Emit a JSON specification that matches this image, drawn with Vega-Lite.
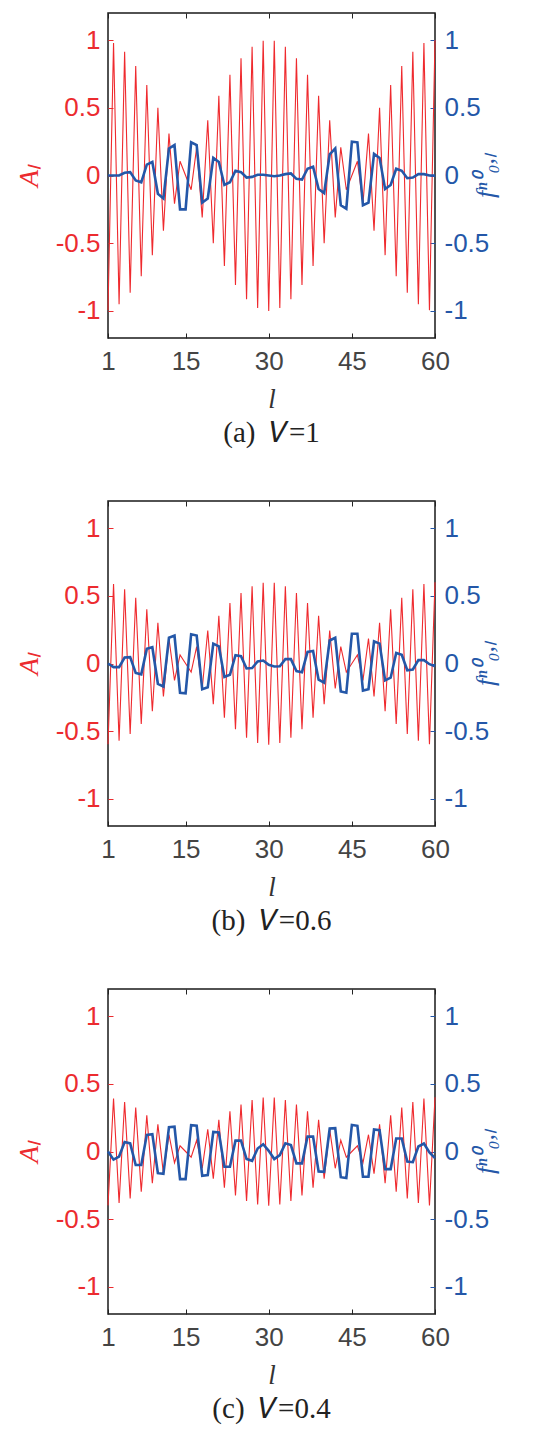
{
  "$schema": "https://vega.github.io/schema/vega-lite/v6.json",
  "background": "white",
  "padding": {"top": 11, "left": 14, "right": 0, "bottom": 0},
  "spacing": 50,
  "datasets": {
    "d": [
      {"p":"a","l":1,"A":-0.995,"f":0},{"p":"a","l":2,"A":0.978,"f":0},{"p":"a","l":3,"A":-0.951,"f":0},{"p":"a","l":4,"A":0.914,"f":0.02},{"p":"a","l":5,"A":-0.866,"f":0.025},{"p":"a","l":6,"A":0.809,"f":-0.037},{"p":"a","l":7,"A":-0.743,"f":-0.05},{"p":"a","l":8,"A":0.669,"f":0.08},{"p":"a","l":9,"A":-0.588,"f":0.1},{"p":"a","l":10,"A":0.5,"f":-0.135},
      {"p":"a","l":11,"A":-0.407,"f":-0.17},{"p":"a","l":12,"A":0.309,"f":0.2},{"p":"a","l":13,"A":-0.208,"f":0.225},{"p":"a","l":14,"A":0.105,"f":-0.25},{"p":"a","l":15,"A":0,"f":-0.25},{"p":"a","l":16,"A":-0.105,"f":0.245},{"p":"a","l":17,"A":0.208,"f":0.225},{"p":"a","l":18,"A":-0.309,"f":-0.2},{"p":"a","l":19,"A":0.407,"f":-0.17},{"p":"a","l":20,"A":-0.5,"f":0.13},
      {"p":"a","l":21,"A":0.588,"f":0.1},{"p":"a","l":22,"A":-0.669,"f":-0.07},{"p":"a","l":23,"A":0.743,"f":-0.05},{"p":"a","l":24,"A":-0.809,"f":0.035},{"p":"a","l":25,"A":0.866,"f":0.025},{"p":"a","l":26,"A":-0.914,"f":-0.015},{"p":"a","l":27,"A":0.951,"f":-0.01},{"p":"a","l":28,"A":-0.978,"f":0.005},{"p":"a","l":29,"A":0.995,"f":0.005},{"p":"a","l":30,"A":-1,"f":0},
      {"p":"a","l":31,"A":0.995,"f":-0.005},{"p":"a","l":32,"A":-0.978,"f":0},{"p":"a","l":33,"A":0.951,"f":0.01},{"p":"a","l":34,"A":-0.914,"f":0.015},{"p":"a","l":35,"A":0.866,"f":-0.025},{"p":"a","l":36,"A":-0.809,"f":-0.03},{"p":"a","l":37,"A":0.743,"f":0.05},{"p":"a","l":38,"A":-0.669,"f":0.065},{"p":"a","l":39,"A":0.588,"f":-0.1},{"p":"a","l":40,"A":-0.5,"f":-0.13},
      {"p":"a","l":41,"A":0.407,"f":0.157},{"p":"a","l":42,"A":-0.309,"f":0.2},{"p":"a","l":43,"A":0.208,"f":-0.22},{"p":"a","l":44,"A":-0.105,"f":-0.245},{"p":"a","l":45,"A":0,"f":0.25},{"p":"a","l":46,"A":0.105,"f":0.245},{"p":"a","l":47,"A":-0.208,"f":-0.22},{"p":"a","l":48,"A":0.309,"f":-0.2},{"p":"a","l":49,"A":-0.407,"f":0.16},{"p":"a","l":50,"A":0.5,"f":0.13},
      {"p":"a","l":51,"A":-0.588,"f":-0.1},{"p":"a","l":52,"A":0.669,"f":-0.07},{"p":"a","l":53,"A":-0.743,"f":0.05},{"p":"a","l":54,"A":0.809,"f":0.035},{"p":"a","l":55,"A":-0.866,"f":-0.02},{"p":"a","l":56,"A":0.914,"f":-0.015},{"p":"a","l":57,"A":-0.951,"f":0.01},{"p":"a","l":58,"A":0.978,"f":0.01},{"p":"a","l":59,"A":-0.995,"f":0},{"p":"a","l":60,"A":1,"f":0},

      {"p":"b","l":1,"A":-0.597,"f":0},{"p":"b","l":2,"A":0.587,"f":-0.027},{"p":"b","l":3,"A":-0.571,"f":-0.027},{"p":"b","l":4,"A":0.548,"f":0.044},{"p":"b","l":5,"A":-0.52,"f":0.047},{"p":"b","l":6,"A":0.485,"f":-0.07},{"p":"b","l":7,"A":-0.446,"f":-0.08},{"p":"b","l":8,"A":0.401,"f":0.108},{"p":"b","l":9,"A":-0.353,"f":0.12},{"p":"b","l":10,"A":0.3,"f":-0.15},
      {"p":"b","l":11,"A":-0.244,"f":-0.17},{"p":"b","l":12,"A":0.185,"f":0.19},{"p":"b","l":13,"A":-0.125,"f":0.206},{"p":"b","l":14,"A":0.063,"f":-0.216},{"p":"b","l":15,"A":0,"f":-0.22},{"p":"b","l":16,"A":-0.063,"f":0.216},{"p":"b","l":17,"A":0.125,"f":0.206},{"p":"b","l":18,"A":-0.185,"f":-0.19},{"p":"b","l":19,"A":0.244,"f":-0.176},{"p":"b","l":20,"A":-0.3,"f":0.147},
      {"p":"b","l":21,"A":0.353,"f":0.127},{"p":"b","l":22,"A":-0.401,"f":-0.1},{"p":"b","l":23,"A":0.446,"f":-0.083},{"p":"b","l":24,"A":-0.485,"f":0.061},{"p":"b","l":25,"A":0.52,"f":0.054},{"p":"b","l":26,"A":-0.548,"f":-0.037},{"p":"b","l":27,"A":0.571,"f":-0.034},{"p":"b","l":28,"A":-0.587,"f":0.015},{"p":"b","l":29,"A":0.597,"f":0.022},{"p":"b","l":30,"A":-0.6,"f":-0.01},
      {"p":"b","l":31,"A":0.597,"f":-0.022},{"p":"b","l":32,"A":-0.587,"f":-0.02},{"p":"b","l":33,"A":0.571,"f":0.032},{"p":"b","l":34,"A":-0.548,"f":0.032},{"p":"b","l":35,"A":0.52,"f":-0.056},{"p":"b","l":36,"A":-0.485,"f":-0.064},{"p":"b","l":37,"A":0.446,"f":0.086},{"p":"b","l":38,"A":-0.401,"f":0.093},{"p":"b","l":39,"A":0.353,"f":-0.12},{"p":"b","l":40,"A":-0.3,"f":-0.142},
      {"p":"b","l":41,"A":0.244,"f":0.17},{"p":"b","l":42,"A":-0.185,"f":0.19},{"p":"b","l":43,"A":0.125,"f":-0.206},{"p":"b","l":44,"A":-0.063,"f":-0.216},{"p":"b","l":45,"A":0,"f":0.22},{"p":"b","l":46,"A":0.063,"f":0.22},{"p":"b","l":47,"A":-0.125,"f":-0.2},{"p":"b","l":48,"A":0.185,"f":-0.19},{"p":"b","l":49,"A":-0.244,"f":0.164},{"p":"b","l":50,"A":0.3,"f":0.147},
      {"p":"b","l":51,"A":-0.353,"f":-0.125},{"p":"b","l":52,"A":0.401,"f":-0.105},{"p":"b","l":53,"A":-0.446,"f":0.078},{"p":"b","l":54,"A":0.485,"f":0.064},{"p":"b","l":55,"A":-0.52,"f":-0.05},{"p":"b","l":56,"A":0.548,"f":-0.044},{"p":"b","l":57,"A":-0.571,"f":0.025},{"p":"b","l":58,"A":0.587,"f":0.025},{"p":"b","l":59,"A":-0.597,"f":-0.005},{"p":"b","l":60,"A":0.6,"f":-0.02},

      {"p":"c","l":1,"A":-0.398,"f":0},{"p":"c","l":2,"A":0.391,"f":-0.06},{"p":"c","l":3,"A":-0.38,"f":-0.037},{"p":"c","l":4,"A":0.365,"f":0.07},{"p":"c","l":5,"A":-0.346,"f":0.06},{"p":"c","l":6,"A":0.324,"f":-0.1},{"p":"c","l":7,"A":-0.297,"f":-0.1},{"p":"c","l":8,"A":0.268,"f":0.123},{"p":"c","l":9,"A":-0.235,"f":0.128},{"p":"c","l":10,"A":0.2,"f":-0.16},
      {"p":"c","l":11,"A":-0.163,"f":-0.165},{"p":"c","l":12,"A":0.124,"f":0.18},{"p":"c","l":13,"A":-0.083,"f":0.184},{"p":"c","l":14,"A":0.042,"f":-0.204},{"p":"c","l":15,"A":0,"f":-0.204},{"p":"c","l":16,"A":-0.042,"f":0.194},{"p":"c","l":17,"A":0.083,"f":0.19},{"p":"c","l":18,"A":-0.124,"f":-0.18},{"p":"c","l":19,"A":0.163,"f":-0.174},{"p":"c","l":20,"A":-0.2,"f":0.145},
      {"p":"c","l":21,"A":0.235,"f":0.14},{"p":"c","l":22,"A":-0.268,"f":-0.113},{"p":"c","l":23,"A":0.297,"f":-0.113},{"p":"c","l":24,"A":-0.324,"f":0.08},{"p":"c","l":25,"A":0.346,"f":0.08},{"p":"c","l":26,"A":-0.365,"f":-0.056},{"p":"c","l":27,"A":0.38,"f":-0.069},{"p":"c","l":28,"A":-0.391,"f":0.022},{"p":"c","l":29,"A":0.398,"f":0.054},{"p":"c","l":30,"A":-0.4,"f":0.005},
      {"p":"c","l":31,"A":0.398,"f":-0.056},{"p":"c","l":32,"A":-0.391,"f":-0.027},{"p":"c","l":33,"A":0.38,"f":0.06},{"p":"c","l":34,"A":-0.365,"f":0.047},{"p":"c","l":35,"A":0.346,"f":-0.088},{"p":"c","l":36,"A":-0.324,"f":-0.088},{"p":"c","l":37,"A":0.297,"f":0.11},{"p":"c","l":38,"A":-0.268,"f":0.11},{"p":"c","l":39,"A":0.235,"f":-0.147},{"p":"c","l":40,"A":-0.2,"f":-0.15},
      {"p":"c","l":41,"A":0.163,"f":0.17},{"p":"c","l":42,"A":-0.124,"f":0.172},{"p":"c","l":43,"A":0.083,"f":-0.19},{"p":"c","l":44,"A":-0.042,"f":-0.196},{"p":"c","l":45,"A":0,"f":0.196},{"p":"c","l":46,"A":0.042,"f":0.19},{"p":"c","l":47,"A":-0.083,"f":-0.186},{"p":"c","l":48,"A":0.124,"f":-0.186},{"p":"c","l":49,"A":-0.163,"f":0.162},{"p":"c","l":50,"A":0.2,"f":0.157},
      {"p":"c","l":51,"A":-0.235,"f":-0.13},{"p":"c","l":52,"A":0.268,"f":-0.13},{"p":"c","l":53,"A":-0.297,"f":0.096},{"p":"c","l":54,"A":0.324,"f":0.096},{"p":"c","l":55,"A":-0.346,"f":-0.074},{"p":"c","l":56,"A":0.365,"f":-0.079},{"p":"c","l":57,"A":-0.38,"f":0.037},{"p":"c","l":58,"A":0.391,"f":0.059},{"p":"c","l":59,"A":-0.398,"f":-0.007},{"p":"c","l":60,"A":0.4,"f":-0.049}
    ]
  },
  "data": {"name": "d"},
  "config": {
    "view": {"stroke": "#1a1a1a", "strokeWidth": 1.5},
    "axis": {"grid": false, "domain": false, "labelFont": "Liberation Sans", "labelFontSize": 26, "tickSize": -5, "tickWidth": 1, "titleFontWeight": "normal", "labelFlush": false, "labelOverlap": false},
    "title": {"font": "Liberation Serif", "fontSize": 29, "fontWeight": "normal", "color": "#222222", "offset": 7}
  },
  "vconcat": [
    {
      "width": 327, "height": 325,
      "transform": [{"filter": "datum.p === 'a'"}],
      "title": {"text": "(a)\u00a0\u00a0𝑉=1", "orient": "bottom"},
      "layer": [
        {
          "mark": {"type": "line", "color": "#ef2a2e", "strokeWidth": 1.1},
          "encoding": {
            "x": {"field": "l", "type": "quantitative", "scale": {"domain": [1, 60], "nice": false, "zero": false}, "axis": {"orient": "bottom", "values": [1, 15, 30, 45, 60], "labelColor": "#444444", "tickColor": "#222222", "labelPadding": 15, "title": "l", "titleFont": "Liberation Serif", "titleFontStyle": "italic", "titleFontSize": 27, "titleColor": "#333333", "titlePadding": 12}},
            "y": {"field": "A", "type": "quantitative", "scale": {"domain": [-1.2, 1.2], "nice": false}, "axis": {"orient": "left", "values": [-1, -0.5, 0, 0.5, 1], "labelExpr": "'' + datum.value", "labelColor": "#ec2b2f", "tickColor": "#ec2b2f", "labelPadding": 13, "title": "Aₗ", "titleFont": "Liberation Serif", "titleFontStyle": "italic", "titleFontSize": 28, "titleColor": "#ec2b2f", "titlePadding": 12}}
          }
        },
        {
          "mark": {"type": "line", "color": "#2457a8", "strokeWidth": 2.6},
          "encoding": {
            "x": {"field": "l", "type": "quantitative", "scale": {"domain": [1, 60], "nice": false, "zero": false}, "axis": {"orient": "top", "values": [1, 15, 30, 45, 60], "labels": false, "tickColor": "#222222", "title": null}},
            "y": {"field": "f", "type": "quantitative", "scale": {"domain": [-1.2, 1.2], "nice": false}, "axis": {"orient": "right", "values": [-1, -0.5, 0, 0.5, 1], "labelExpr": "'' + datum.value", "labelColor": "#2457a8", "tickColor": "#2457a8", "labelPadding": 14, "title": "fⁿ⁰₀,ₗ", "titleAngle": 270, "titleFont": "Liberation Serif", "titleFontStyle": "italic", "titleFontSize": 26, "titleColor": "#2457a8", "titlePadding": 10}}
          }
        }
      ],
      "resolve": {"scale": {"y": "independent"}, "axis": {"x": "independent"}}
    },
    {
      "width": 327, "height": 325,
      "transform": [{"filter": "datum.p === 'b'"}],
      "title": {"text": "(b)\u00a0\u00a0𝑉=0.6", "orient": "bottom"},
      "layer": [
        {
          "mark": {"type": "line", "color": "#ef2a2e", "strokeWidth": 1.1},
          "encoding": {
            "x": {"field": "l", "type": "quantitative", "scale": {"domain": [1, 60], "nice": false, "zero": false}, "axis": {"orient": "bottom", "values": [1, 15, 30, 45, 60], "labelColor": "#444444", "tickColor": "#222222", "labelPadding": 15, "title": "l", "titleFont": "Liberation Serif", "titleFontStyle": "italic", "titleFontSize": 27, "titleColor": "#333333", "titlePadding": 12}},
            "y": {"field": "A", "type": "quantitative", "scale": {"domain": [-1.2, 1.2], "nice": false}, "axis": {"orient": "left", "values": [-1, -0.5, 0, 0.5, 1], "labelExpr": "'' + datum.value", "labelColor": "#ec2b2f", "tickColor": "#ec2b2f", "labelPadding": 13, "title": "Aₗ", "titleFont": "Liberation Serif", "titleFontStyle": "italic", "titleFontSize": 28, "titleColor": "#ec2b2f", "titlePadding": 12}}
          }
        },
        {
          "mark": {"type": "line", "color": "#2457a8", "strokeWidth": 2.6},
          "encoding": {
            "x": {"field": "l", "type": "quantitative", "scale": {"domain": [1, 60], "nice": false, "zero": false}, "axis": {"orient": "top", "values": [1, 15, 30, 45, 60], "labels": false, "tickColor": "#222222", "title": null}},
            "y": {"field": "f", "type": "quantitative", "scale": {"domain": [-1.2, 1.2], "nice": false}, "axis": {"orient": "right", "values": [-1, -0.5, 0, 0.5, 1], "labelExpr": "'' + datum.value", "labelColor": "#2457a8", "tickColor": "#2457a8", "labelPadding": 14, "title": "fⁿ⁰₀,ₗ", "titleAngle": 270, "titleFont": "Liberation Serif", "titleFontStyle": "italic", "titleFontSize": 26, "titleColor": "#2457a8", "titlePadding": 10}}
          }
        }
      ],
      "resolve": {"scale": {"y": "independent"}, "axis": {"x": "independent"}}
    },
    {
      "width": 327, "height": 325,
      "transform": [{"filter": "datum.p === 'c'"}],
      "title": {"text": "(c)\u00a0\u00a0𝑉=0.4", "orient": "bottom"},
      "layer": [
        {
          "mark": {"type": "line", "color": "#ef2a2e", "strokeWidth": 1.1},
          "encoding": {
            "x": {"field": "l", "type": "quantitative", "scale": {"domain": [1, 60], "nice": false, "zero": false}, "axis": {"orient": "bottom", "values": [1, 15, 30, 45, 60], "labelColor": "#444444", "tickColor": "#222222", "labelPadding": 15, "title": "l", "titleFont": "Liberation Serif", "titleFontStyle": "italic", "titleFontSize": 27, "titleColor": "#333333", "titlePadding": 12}},
            "y": {"field": "A", "type": "quantitative", "scale": {"domain": [-1.2, 1.2], "nice": false}, "axis": {"orient": "left", "values": [-1, -0.5, 0, 0.5, 1], "labelExpr": "'' + datum.value", "labelColor": "#ec2b2f", "tickColor": "#ec2b2f", "labelPadding": 13, "title": "Aₗ", "titleFont": "Liberation Serif", "titleFontStyle": "italic", "titleFontSize": 28, "titleColor": "#ec2b2f", "titlePadding": 12}}
          }
        },
        {
          "mark": {"type": "line", "color": "#2457a8", "strokeWidth": 2.6},
          "encoding": {
            "x": {"field": "l", "type": "quantitative", "scale": {"domain": [1, 60], "nice": false, "zero": false}, "axis": {"orient": "top", "values": [1, 15, 30, 45, 60], "labels": false, "tickColor": "#222222", "title": null}},
            "y": {"field": "f", "type": "quantitative", "scale": {"domain": [-1.2, 1.2], "nice": false}, "axis": {"orient": "right", "values": [-1, -0.5, 0, 0.5, 1], "labelExpr": "'' + datum.value", "labelColor": "#2457a8", "tickColor": "#2457a8", "labelPadding": 14, "title": "fⁿ⁰₀,ₗ", "titleAngle": 270, "titleFont": "Liberation Serif", "titleFontStyle": "italic", "titleFontSize": 26, "titleColor": "#2457a8", "titlePadding": 10}}
          }
        }
      ],
      "resolve": {"scale": {"y": "independent"}, "axis": {"x": "independent"}}
    }
  ]
}
